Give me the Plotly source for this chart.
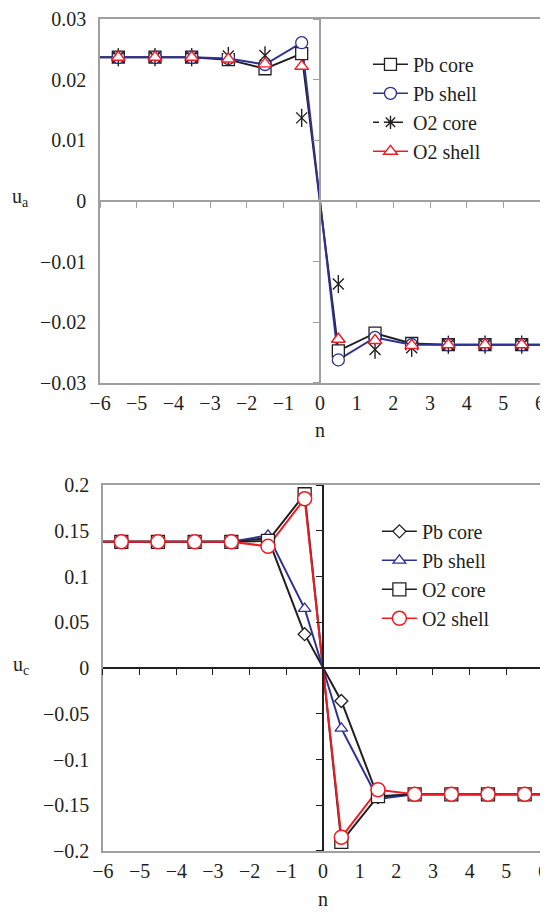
import plotly.graph_objects as go

# ---------------- data ----------------
n = [-5.5, -4.5, -3.5, -2.5, -1.5, -0.5, 0.5, 1.5, 2.5, 3.5, 4.5, 5.5]

# top panel (u_a)
pb_core_a = [0.0237, 0.0237, 0.0237, 0.0233, 0.0218, 0.0243, -0.0247, -0.0218, -0.0235, -0.0237, -0.0237, -0.0237]
pb_shell_a = [0.0237, 0.0237, 0.0237, 0.0235, 0.0225, 0.0261, -0.0262, -0.0225, -0.0237, -0.0237, -0.0237, -0.0237]
o2_core_a = [0.0237, 0.0237, 0.0237, 0.0239, 0.0240, 0.0137, -0.0137, -0.0245, -0.0242, -0.0237, -0.0237, -0.0237]
o2_shell_a = [0.0237, 0.0237, 0.0237, 0.0234, 0.0226, 0.0222, -0.0228, -0.0230, -0.0238, -0.0237, -0.0237, -0.0237]

# bottom panel (u_c)
pb_core_c = [0.138, 0.138, 0.138, 0.138, 0.142, 0.037, -0.036, -0.141, -0.138, -0.138, -0.138, -0.138]
pb_shell_c = [0.138, 0.138, 0.138, 0.138, 0.145, 0.065, -0.066, -0.143, -0.138, -0.138, -0.138, -0.138]
o2_core_c = [0.138, 0.138, 0.138, 0.138, 0.139, 0.190, -0.190, -0.140, -0.138, -0.138, -0.138, -0.138]
o2_shell_c = [0.138, 0.138, 0.138, 0.138, 0.133, 0.185, -0.185, -0.133, -0.138, -0.138, -0.138, -0.138]

x_ticks = [-6, -5, -4, -3, -2, -1, 0, 1, 2, 3, 4, 5, 6]
x_ticktext = ["\u22126", "\u22125", "\u22124", "\u22123", "\u22122", "\u22121", "0", "1", "2", "3", "4", "5", "6"]
ya_ticks = [0.03, 0.02, 0.01, 0, -0.01, -0.02, -0.03]
ya_ticktext = ["0.03", "0.02", "0.01", "0", "\u22120.01", "\u22120.02", "\u22120.03"]
yc_ticks = [0.2, 0.15, 0.1, 0.05, 0, -0.05, -0.1, -0.15, -0.2]
yc_ticktext = ["0.2", "0.15", "0.1", "0.05", "0", "\u22120.05", "\u22120.1", "\u22120.15", "\u22120.2"]

legend_a = ["Pb core", "Pb shell", "O2 core", "O2 shell"]
legend_c = ["Pb core", "Pb shell", "O2 core", "O2 shell"]

# ---------------- style ----------------
BLACK = "#231f20"
BLUE = "#2e3192"
RED = "#ed1c24"
GREY = "#a0a0a0"
FONT = "Liberation Serif, Tinos, 'Times New Roman', 'DejaVu Serif', serif"
EXT = 6.2  # lines run slightly past the frame, as in the source figure

OFF = 8  # page body margin in the browser
W, H = 548 - OFF, 912 - OFF
ML, MR, MT, MB = 100 - OFF, 0, 12 - OFF, 61
PW = W - ML - MR
PH = H - MT - MB


def px_x(p):
    return (p - OFF - ML) / PW


def px_y(p):
    return (H - MB - (p - OFF)) / PH


top_x_dom = [0, px_x(545)]
top_y_dom = [px_y(379), 1]
bot_x_dom = [px_x(103), 1]
bot_y_dom = [0, px_y(482)]


def ext(y):
    return [-EXT] + n + [EXT], [y[0]] + y + [y[-1]]


fig = go.Figure()


def line_trace(y, color, xa, ya, width=2):
    xx, yy = ext(y)
    fig.add_trace(go.Scatter(x=xx, y=yy, mode="lines", xaxis=xa, yaxis=ya,
                             line=dict(color=color, width=width),
                             cliponaxis=False, showlegend=False, hoverinfo="skip"))


def marker_trace(y, color, symbol, size, xa, ya, fill="white", lw=1.3):
    fig.add_trace(go.Scatter(x=n, y=y, mode="markers", xaxis=xa, yaxis=ya,
                             marker=dict(symbol=symbol, size=size, color=fill,
                                         line=dict(color=color, width=lw)),
                             showlegend=False, hoverinfo="skip"))


def legend_trace(name, color, symbol, size, legend, xa, ya, dash="solid", fill="white", lw=1.3):
    fig.add_trace(go.Scatter(x=[None], y=[None], mode="lines+markers", name=name,
                             xaxis=xa, yaxis=ya, legend=legend,
                             line=dict(color=color, width=1.5, dash=dash),
                             marker=dict(symbol=symbol, size=size, color=fill,
                                         line=dict(color=color, width=lw))))


# ---- top panel ----
line_trace(pb_core_a, BLACK, "x", "y")
line_trace(pb_shell_a, BLUE, "x", "y")
marker_trace(pb_core_a, BLACK, "square", 12, "x", "y")
marker_trace(pb_shell_a, BLUE, "circle", 12, "x", "y")
# O2 core: six-armed asterisk on a white patch
marker_trace(o2_core_a, "white", "circle", 11, "x", "y", fill="white", lw=0)
marker_trace(o2_core_a, BLACK, "x-thin-open", 11, "x", "y", fill=BLACK, lw=1.4)
marker_trace(o2_core_a, BLACK, "line-ns-open", 13, "x", "y", fill=BLACK, lw=1.4)
marker_trace(o2_shell_a, RED, "triangle-up", 12, "x", "y", lw=1.4)

legend_trace(legend_a[0], BLACK, "square", 12, "legend", "x", "y")
legend_trace(legend_a[1], BLUE, "circle", 12, "legend", "x", "y")
legend_trace(legend_a[2], BLACK, "asterisk-open", 11, "legend", "x", "y",
             dash="6px,18px,6px", fill=BLACK, lw=1.4)
legend_trace(legend_a[3], RED, "triangle-up", 12, "legend", "x", "y", lw=1.4)

# ---- bottom panel ----
line_trace(pb_core_c, BLACK, "x2", "y2")
line_trace(pb_shell_c, BLUE, "x2", "y2")
line_trace(o2_core_c, BLACK, "x2", "y2")
line_trace(o2_shell_c, RED, "x2", "y2")
marker_trace(pb_core_c, BLACK, "diamond", 10, "x2", "y2")
marker_trace(pb_shell_c, BLUE, "triangle-up", 11, "x2", "y2")
marker_trace(o2_core_c, BLACK, "square", 13, "x2", "y2")
marker_trace(o2_shell_c, RED, "circle", 14, "x2", "y2", lw=1.5)

legend_trace(legend_c[0], BLACK, "diamond", 10, "legend2", "x2", "y2")
legend_trace(legend_c[1], BLUE, "triangle-up", 11, "legend2", "x2", "y2")
legend_trace(legend_c[2], BLACK, "square", 13, "legend2", "x2", "y2")
legend_trace(legend_c[3], RED, "circle", 14, "legend2", "x2", "y2", lw=1.5)

# dummy traces to activate the centre (crossing) axes
fig.add_trace(go.Scatter(x=[None], y=[None], xaxis="x3", yaxis="y3", showlegend=False, hoverinfo="skip"))
fig.add_trace(go.Scatter(x=[None], y=[None], xaxis="x4", yaxis="y4", showlegend=False, hoverinfo="skip"))

tickfont = dict(family=FONT, size=20, color=BLACK)

frame = dict(showgrid=False, zeroline=False, showline=True, mirror=True,
             linecolor=GREY, linewidth=1.5, ticks="", tickfont=tickfont,
             ticklabeloverflow="allow")


def centre_x(overlay, pos, color, dom):
    return dict(overlaying=overlay, anchor="free", position=pos, domain=dom,
                range=[-6, 6], tickvals=x_ticks, showticklabels=False,
                ticks="outside", ticklen=6, tickwidth=1.3, tickcolor=color,
                showline=True, linecolor=color, linewidth=1.5,
                showgrid=False, zeroline=False, side="bottom")


def centre_y(overlay, pos, color, rng, tv, dom):
    return dict(overlaying=overlay, anchor="free", position=pos, domain=dom,
                range=rng, tickvals=tv, showticklabels=False,
                ticks="outside", ticklen=6, tickwidth=1.3, tickcolor=color,
                showline=True, linecolor=color, linewidth=1.5,
                showgrid=False, zeroline=False, side="left")


legend_font = dict(family=FONT, size=20, color=BLACK)
ann_font = dict(family=FONT, size=20, color=BLACK)

fig.update_layout(
    width=W, height=H,
    margin=dict(l=ML, r=MR, t=MT, b=MB),
    paper_bgcolor="white", plot_bgcolor="white",
    font=dict(family=FONT, size=20, color=BLACK),
    xaxis=dict(frame, domain=top_x_dom, anchor="y", range=[-6, 6],
               tickvals=x_ticks, ticktext=x_ticktext, ticklabelstandoff=1),
    yaxis=dict(frame, domain=top_y_dom, anchor="x", range=[-0.03, 0.03],
               tickvals=ya_ticks, ticktext=ya_ticktext, ticklabelstandoff=8),
    xaxis2=dict(frame, domain=bot_x_dom, anchor="y2", range=[-6, 6],
                tickvals=x_ticks, ticktext=x_ticktext, ticklabelstandoff=1),
    yaxis2=dict(frame, domain=bot_y_dom, anchor="x2", range=[-0.2, 0.2],
                tickvals=yc_ticks, ticktext=yc_ticktext, ticklabelstandoff=8),
    xaxis3=centre_x("x", sum(top_y_dom) / 2, GREY, top_x_dom),
    yaxis3=centre_y("y", sum(top_x_dom) / 2, GREY, [-0.03, 0.03], ya_ticks, top_y_dom),
    xaxis4=centre_x("x2", sum(bot_y_dom) / 2, BLACK, bot_x_dom),
    yaxis4=centre_y("y2", sum(bot_x_dom) / 2, BLACK, [-0.2, 0.2], yc_ticks, bot_y_dom),
    legend=dict(x=px_x(371), y=px_y(38), xanchor="left", yanchor="top", itemwidth=35,
                bgcolor="rgba(0,0,0,0)", font=legend_font),
    legend2=dict(x=px_x(380), y=px_y(509), xanchor="left", yanchor="top", itemwidth=35,
                 bgcolor="rgba(0,0,0,0)", font=legend_font),
    annotations=[
        dict(text="u<sub>a</sub>", xref="paper", yref="y", x=px_x(20), y=0, yshift=3,
             xanchor="center", yanchor="middle", showarrow=False, font=ann_font),
        dict(text="u<sub>c</sub>", xref="paper", yref="y2", x=px_x(20), y=0, yshift=3,
             xanchor="center", yanchor="middle", showarrow=False, font=ann_font),
        dict(text="n", xref="x", yref="paper", x=0, y=top_y_dom[0], yshift=-47,
             xanchor="center", yanchor="middle", showarrow=False, font=ann_font),
        dict(text="n", xref="x2", yref="paper", x=0, y=bot_y_dom[0], yshift=-48,
             xanchor="center", yanchor="middle", showarrow=False, font=ann_font),
    ],
)

fig.write_html("out.html")
